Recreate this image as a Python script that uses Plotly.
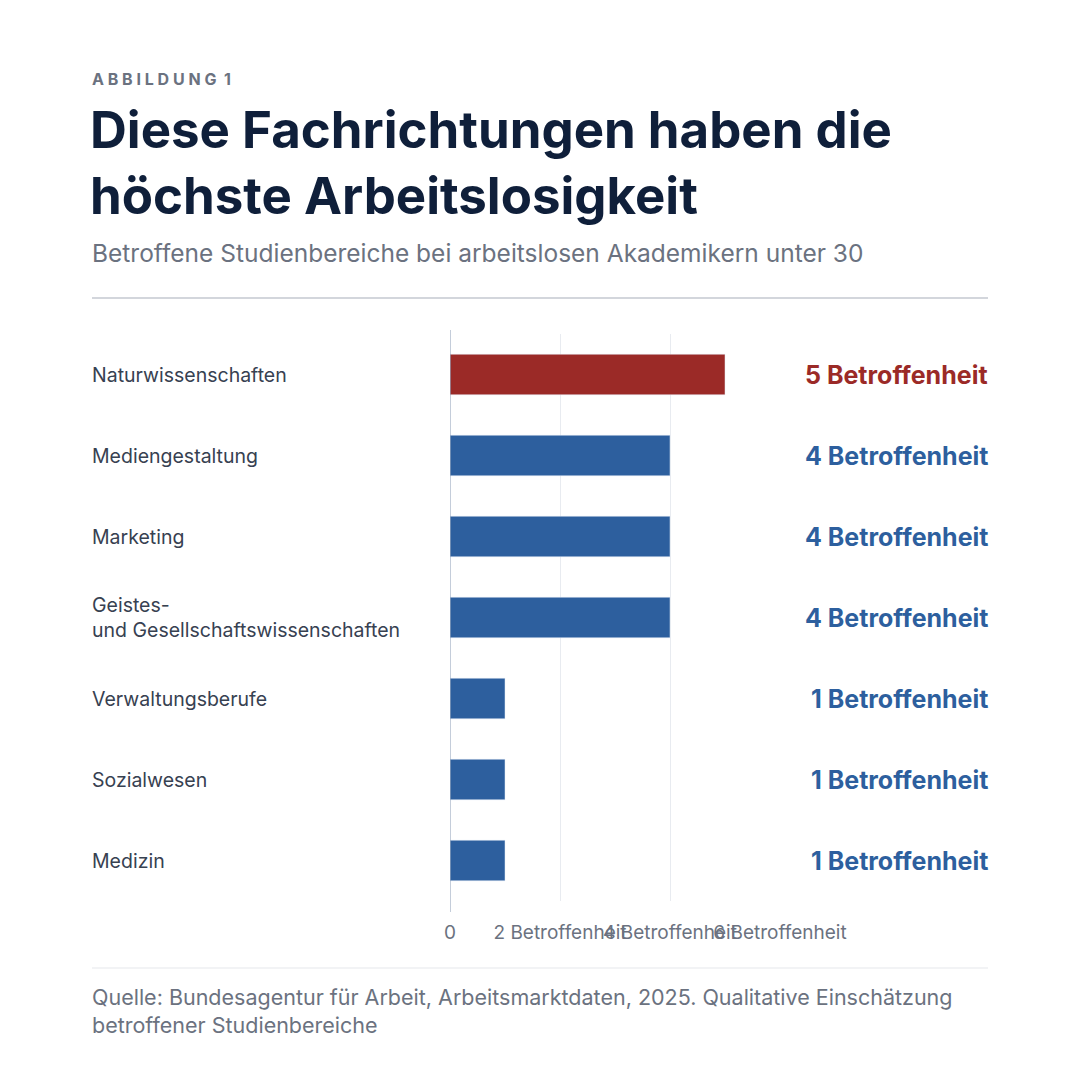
import plotly.graph_objects as go

categories = ["Naturwissenschaften", "Mediengestaltung", "Marketing",
              "Geistes-<br>und Gesellschaftswissenschaften", "Verwaltungsberufe",
              "Sozialwesen", "Medizin"]
values = [5, 4, 4, 4, 1, 1, 1]
value_labels = ["5 Betroffenheit", "4 Betroffenheit", "4 Betroffenheit", "4 Betroffenheit",
                "1 Betroffenheit", "1 Betroffenheit", "1 Betroffenheit"]
tick_vals = [0, 2, 4, 6]
tick_text = ["0", "2 Betroffenheit", "4 Betroffenheit", "6 Betroffenheit"]

W, H = 1080, 1072
OFF = 8  # page body offset
L, R, T, B = 450 - OFF, 300 + OFF, 334 - OFF, 171 + OFF
PW, PH = W - L - R, H - T - B
def px(x): return (x - OFF - L) / PW
def py(y): return (H - B - (y - OFF)) / PH

BLUE, RED = "#2d5f9e", "#9b2a27"
colors = [RED if i == 0 else BLUE for i in range(len(values))]
FONT = "Inter"

fig = go.Figure(go.Bar(x=values, y=categories, orientation="h", marker_color=colors,
                       width=0.5, hoverinfo="skip"))

ann = []
for c, v, col in zip(categories, value_labels, colors):
    ann.append(dict(x=px(90), xref="paper", y=c, yref="y", text=c, showarrow=False,
                    xanchor="left", align="left", font=dict(size=19.5, color="#374151", family=FONT)))
    ann.append(dict(x=px(990), xref="paper", y=c, yref="y", text="<b>" + v + "</b>", showarrow=False,
                    xanchor="right", font=dict(size=25, color=col, family=FONT)))
ann += [
    dict(x=px(90), y=py(79), text="<b>A B B I L D U N G  1</b>", font=dict(size=16, color="#6b7280", family=FONT)),
    dict(x=px(88), y=py(163), text="<b>Diese Fachrichtungen haben die<br>höchste Arbeitslosigkeit</b>",
         font=dict(size=51, color="#0f1f3a", family=FONT), align="left"),
    dict(x=px(90), y=py(253), text="Betroffene Studienbereiche bei arbeitslosen Akademikern unter 30",
         font=dict(size=24.5, color="#6b7280", family=FONT)),
    dict(x=px(90), y=py(1011), text="Quelle: Bundesagentur für Arbeit, Arbeitsmarktdaten, 2025. Qualitative Einschätzung<br>betroffener Studienbereiche",
         font=dict(size=21.5, color="#6b7280", family=FONT), align="left"),
]
for a in ann[-4:]:
    a.update(xref="paper", yref="paper", xanchor="left", yanchor="middle", showarrow=False)

shapes = [
    dict(type="line", xref="paper", yref="paper", x0=px(92), x1=px(988), y0=py(298), y1=py(298),
         line=dict(color="#c4c8d0", width=1.5)),
    dict(type="line", xref="paper", yref="paper", x0=px(92), x1=px(988), y0=py(968), y1=py(968),
         line=dict(color="#e5e7eb", width=1)),
    dict(type="line", xref="x", yref="paper", x0=0, x1=0, y0=py(912), y1=py(330),
         line=dict(color="#8a9bb5", width=1)),
]

fig.update_layout(
    width=W, height=H, margin=dict(l=L, r=R, t=T, b=B),
    paper_bgcolor="white", plot_bgcolor="white", showlegend=False,
    annotations=ann, shapes=shapes,
    font=dict(family=FONT),
    xaxis=dict(range=[0, 6], tickvals=tick_vals, ticktext=tick_text, showgrid=True, tickangle=0,
               gridcolor="#e8ebf0", zeroline=False, showline=False, ticklabelstandoff=18,
               tickfont=dict(size=19, color="#6b7280")),
    yaxis=dict(autorange="reversed", showticklabels=False, showgrid=False, zeroline=False),
)
fig.write_html("out.html")
